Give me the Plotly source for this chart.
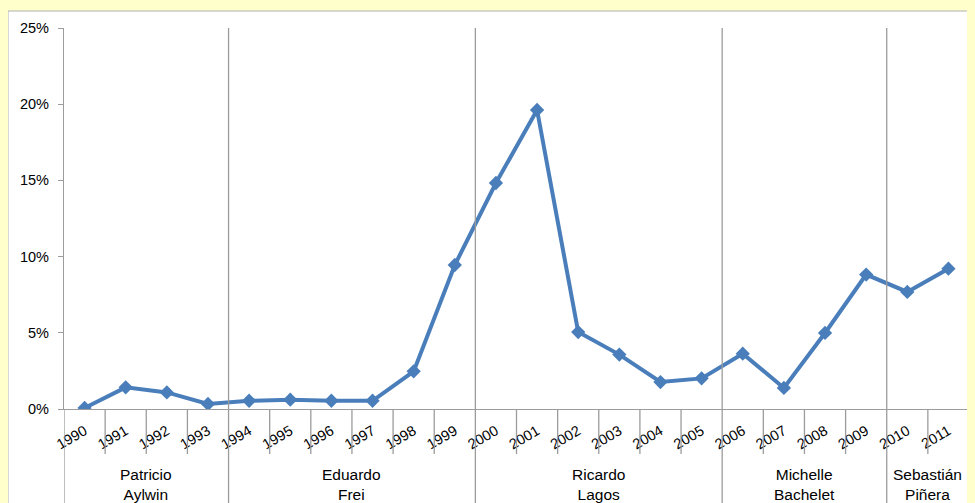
import plotly.graph_objects as go

years = [str(y) for y in range(1990, 2012)]
values = [0.07, 1.42, 1.09, 0.33, 0.54, 0.61, 0.54, 0.54, 2.47, 9.45, 14.83,
          19.62, 5.05, 3.57, 1.77, 2.01, 3.63, 1.38, 4.99, 8.82, 7.68, 9.21]
presidents = ["Patricio<br>Aylwin", "Eduardo<br>Frei", "Ricardo<br>Lagos",
              "Michelle<br>Bachelet", "Sebastián<br>Piñera"]
term_first = ["1990", "1994", "2000", "2006", "2010"]
term_last = ["1993", "1999", "2005", "2009", "2011"]

LINE = "#4A7EBB"
GRID = "#9c9c9c"
CREAM = "#FFFFCC"
FONT = "Liberation Sans, Arial, sans-serif"

# page offset (body margin) compensation: the figure is drawn 8px in from top-left
OFF = 8
L, T = 64 - OFF, 28 - OFF
PLOT_W, PLOT_H = 905, 381
W, H = 975, 503
R = W - L - PLOT_W
B = H - T - PLOT_H

fig = go.Figure()
fig.add_trace(go.Scatter(
    x=years, y=values, mode="lines+markers",
    line=dict(color=LINE, width=4),
    marker=dict(symbol="diamond", size=11, color=LINE),
    showlegend=False, hoverinfo="x+y",
))


def px_x(p):
    return (p - 64) / PLOT_W


def px_y(p):
    return (409 - p) / PLOT_H


shapes = []
# white inner panel over cream background
shapes.append(dict(type="rect", xref="paper", yref="paper",
                   x0=px_x(8), x1=1.1, y0=-0.4, y1=px_y(11),
                   fillcolor="white", line=dict(color="#b0b0b0", width=1),
                   layer="below"))

idx = {y: i for i, y in enumerate(years)}
group_bounds = [idx[f] - 0.5 for f in term_first] + [len(years) - 0.5]
for b in group_bounds:
    top = 1 if 0 < b < len(years) - 1 else 0
    shapes.append(dict(type="line", xref="x", yref="paper", x0=b, x1=b,
                       y0=px_y(505), y1=top, line=dict(color=GRID, width=1.3)))
for i in range(len(years) + 1):
    b = i - 0.5
    if b in group_bounds:
        continue
    shapes.append(dict(type="line", xref="x", yref="paper", x0=b, x1=b,
                       y0=0, y1=px_y(454), line=dict(color=GRID, width=1.3)))

annotations = []
for name, f, l in zip(presidents, term_first, term_last):
    annotations.append(dict(x=(idx[f] + idx[l]) / 2, y=px_y(484), xref="x", yref="paper",
                            text=name, showarrow=False, yanchor="middle",
                            font=dict(family=FONT, size=15.5, color="#000"),
                            align="center"))
annotations.append(dict(x=px_x(748), y=px_y(10), xref="paper", yref="paper",
                        text="(", showarrow=False, yanchor="bottom", xanchor="left",
                        font=dict(family=FONT, size=20, color="#000")))
annotations.append(dict(x=px_x(950), y=px_y(10), xref="paper", yref="paper",
                        text=")", showarrow=False, yanchor="bottom", xanchor="right",
                        font=dict(family=FONT, size=20, color="#000")))

fig.update_layout(
    width=W, height=H,
    margin=dict(l=L, r=R, t=T, b=B, autoexpand=False),
    paper_bgcolor=CREAM, plot_bgcolor="rgba(0,0,0,0)",
    font=dict(family=FONT, size=14, color="#000"),
    shapes=shapes, annotations=annotations,
    xaxis=dict(type="category", range=[-0.5, len(years) - 0.5],
               showgrid=False, zeroline=False, showline=True,
               linecolor=GRID, linewidth=1.3, ticks="", tickangle=-30,
               ticklabelstandoff=7, automargin=False,
               tickfont=dict(family=FONT, size=14.5)),
    yaxis=dict(range=[0, 25], dtick=5, ticksuffix="%", showgrid=False,
               zeroline=False, showline=True, linecolor=GRID, linewidth=1.3,
               ticks="outside", ticklen=5, tickcolor=GRID,
               ticklabelstandoff=6, automargin=False,
               tickfont=dict(family=FONT, size=14.5)),
)

fig.write_html("out.html", post_script="document.body.style.background='%s';" % CREAM)
